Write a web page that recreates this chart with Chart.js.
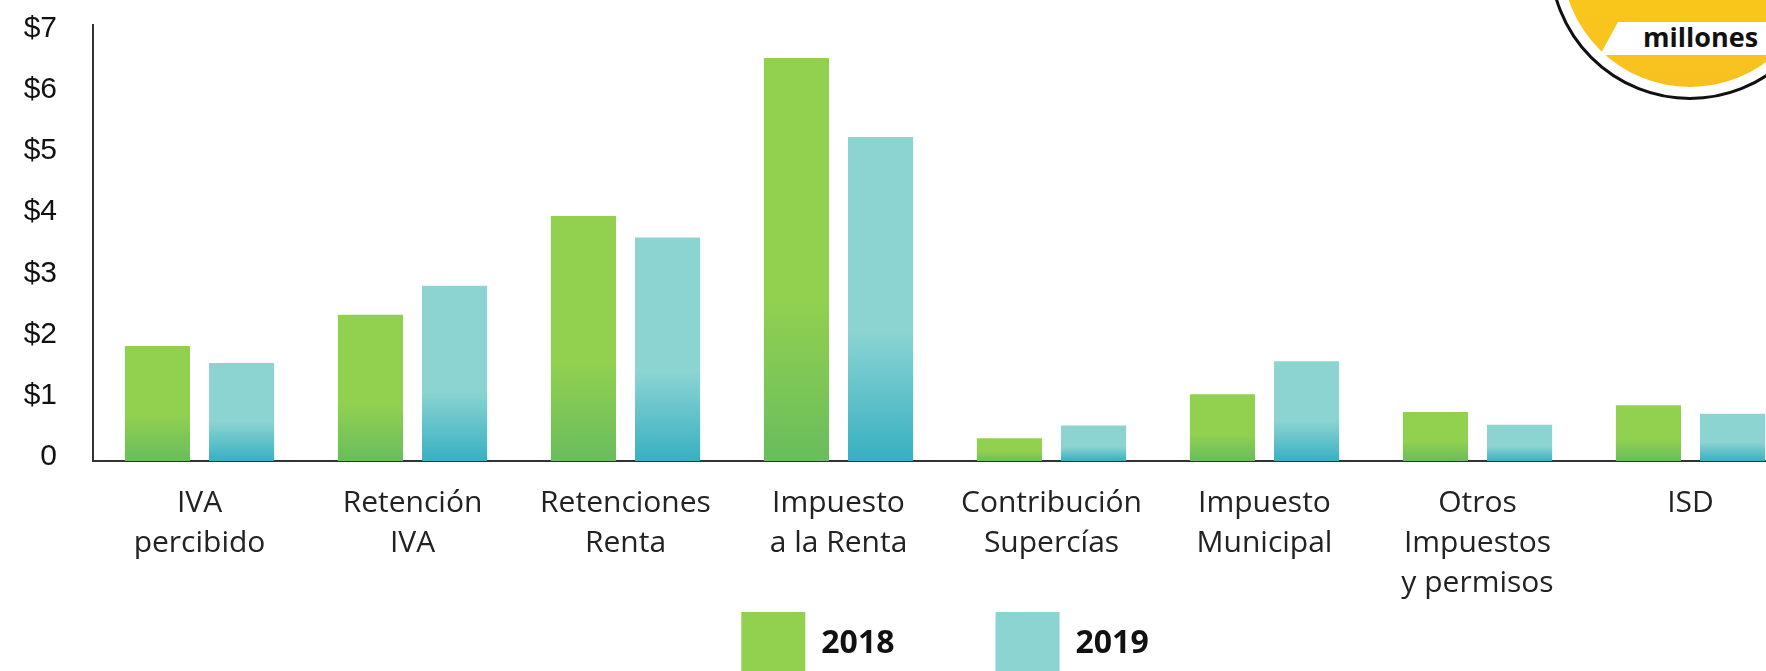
<!DOCTYPE html>
<html>
<head>
<meta charset="utf-8">
<script src="https://cdn.jsdelivr.net/npm/chart.js@4/dist/chart.umd.min.js"></script>
<style>
  html, body { margin: 0; padding: 0; background: #fff; overflow: hidden; width: 1766px; height: 671px; }
  #wrap { position: absolute; left: 0; top: 0; width: 1800px; height: 686px; }
  .ring { position: absolute; left: 1549px; top: -182px; width: 276px; height: 276px; border: 3px solid #111; border-radius: 50%; background: #fff; }
  .sun { position: absolute; left: 1562px; top: -169px; width: 256px; height: 256px; border-radius: 50%; background: linear-gradient(#fdd414, #f7c020); }
  .band { position: absolute; left: 1600px; top: 22px; width: 166px; height: 33px; background: #fff; clip-path: polygon(18px 0, 100% 0, 100% 100%, 0 100%); }
  .badge-text { position: absolute; left: 1643px; top: 19px; font: bold 27px "Open Sans", sans-serif; color: #111; line-height: 36px; }
</style>
</head>
<body>
<div id="wrap"><canvas id="taxChart" width="1800" height="686"></canvas></div>
<div class="ring"></div>
<div class="sun"></div>
<div class="band"></div>
<div class="badge-text">millones</div>
<script>
  const categories = [
    ["IVA", "percibido"],
    ["Retención", "IVA"],
    ["Retenciones", "Renta"],
    ["Impuesto", "a la Renta"],
    ["Contribución", "Supercías"],
    ["Impuesto", "Municipal"],
    ["Otros", "Impuestos", "y permisos"],
    ["ISD"]
  ];
  const values2018 = [1.88, 2.39, 4.0, 6.58, 0.37, 1.09, 0.80, 0.91];
  const values2019 = [1.60, 2.86, 3.65, 5.29, 0.58, 1.63, 0.59, 0.77];
  const seriesNames = ["2018", "2019"];
  const yTicks = [0, 1, 2, 3, 4, 5, 6, 7];

  const lightColors = ["#92d050", "#8bd4d2"];
  const darkColors = ["#69bd5d", "#38b0c1"];

  // vertical fade: light on top, darker near the base of each bar
  function barFill(i) {
    return function (ctx) {
      const chart = ctx.chart;
      if (!chart.chartArea) return lightColors[i];
      const y = chart.scales.y;
      const top = y.getPixelForValue(ctx.raw);
      const base = y.getPixelForValue(0);
      const g = chart.ctx.createLinearGradient(0, top, 0, base);
      g.addColorStop(0, lightColors[i]);
      g.addColorStop(0.6, lightColors[i]);
      g.addColorStop(1, darkColors[i]);
      return g;
    };
  }

  new Chart(document.getElementById("taxChart").getContext("2d"), {
    type: "bar",
    data: {
      labels: categories,
      datasets: [{
        label: seriesNames[0],
        data: values2018,
        backgroundColor: barFill(0),
        categoryPercentage: 0.79,
        barPercentage: 0.774
      }, {
        label: seriesNames[1],
        data: values2019,
        backgroundColor: barFill(1),
        categoryPercentage: 0.79,
        barPercentage: 0.774
      }]
    },
    options: {
      responsive: false,
      devicePixelRatio: 1,
      animation: false,
      layout: { padding: { left: 0, right: 3, top: 25, bottom: 0 } },
      scales: {
        x: {
          grid: { display: false },
          border: { color: "#333", width: 2 },
          ticks: {
            color: "#222",
            font: { family: "'Open Sans', sans-serif", size: 30, lineHeight: 1.333 },
            padding: 14,
            maxRotation: 0,
            autoSkip: false
          },
          // keep the axis box short so the legend sits right under it;
          // labels are allowed to spill into the empty legend padding
          afterFit: s => {
            s.height = 50;
            s.paddingLeft = 0;
            s.paddingRight = 0;
            s._computeLabelArea = () => null;
          }
        },
        y: {
          min: 0,
          max: 7.12,
          grid: { display: false },
          border: { color: "#333", width: 2 },
          afterBuildTicks: s => { s.ticks = yTicks.map(v => ({ value: v })); },
          ticks: {
            color: "#111",
            font: { family: "'Liberation Sans', Arial, sans-serif", size: 30 },
            padding: 28,
            labelOffset: -4,
            callback: v => v === 0 ? "0" : "$" + v
          },
          afterFit: s => {
            s.width = 93;
            s.paddingTop = 0;
            s.paddingBottom = 0;
          }
        }
      },
      plugins: {
        tooltip: { enabled: false },
        legend: {
          position: "bottom",
          fullSize: false,
          labels: {
            boxWidth: 64,
            boxHeight: 64,
            padding: 101,
            color: "#111",
            font: { family: "'Open Sans', sans-serif", size: 32, weight: "bold" },
            generateLabels: chart => Chart.defaults.plugins.legend.labels.generateLabels(chart)
              .map((item, i) => Object.assign(item, { fillStyle: lightColors[i], strokeStyle: lightColors[i], lineWidth: 0 }))
          }
        }
      }
    }
  });
</script>
</body>
</html>
